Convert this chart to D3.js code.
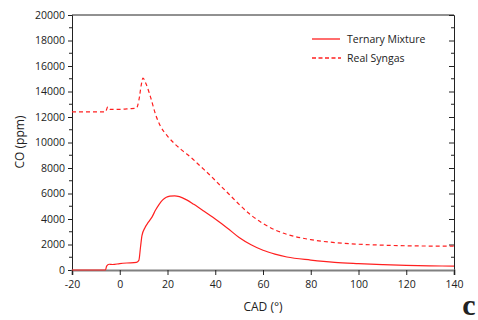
<!DOCTYPE html>
<html>
<head>
<meta charset="utf-8">
<script src="https://cdn.jsdelivr.net/npm/d3@7"></script>
<style>
  body { margin: 0; background: #fff; }
  svg { display: block; }
  text { font-family: "Open Sans", sans-serif; fill: #222; }
</style>
</head>
<body>
<svg width="478" height="320"></svg>
<script>
// CO concentration vs crank angle

var xTicks = [-20, 0, 20, 40, 60, 80, 100, 120, 140];
var yTicks = [0, 2000, 4000, 6000, 8000, 10000, 12000, 14000, 16000, 18000, 20000];

var ternaryCad = [-20, -6, -5.5, -4.5, -3, 0, 3, 7, 8, 8.7, 9.3, 10.5, 12, 13.5, 15, 16.5, 18, 19.5, 21, 23, 25, 28, 31, 35, 40, 45, 50, 55, 60, 65, 70, 80, 90, 100, 110, 120, 130, 140];
var ternaryCo  = [0, 0, 300, 450, 430, 500, 550, 600, 750, 1800, 2700, 3300, 3750, 4150, 4700, 5150, 5500, 5700, 5790, 5820, 5750, 5500, 5150, 4650, 4000, 3300, 2550, 1980, 1550, 1250, 1020, 780, 600, 500, 420, 360, 330, 300];

var syngasCad = [-20, -6, -5, -4, 0, 4, 7, 8, 9, 9.7, 11, 13, 15, 17, 20, 23, 26, 30, 34, 38, 42, 46, 50, 55, 60, 65, 70, 80, 90, 100, 110, 120, 130, 140];
var syngasCo  = [12400, 12400, 12800, 12600, 12600, 12650, 12700, 13300, 14500, 15050, 14600, 13500, 12200, 11300, 10500, 9900, 9400, 8800, 8100, 7400, 6650, 5900, 5150, 4300, 3650, 3150, 2800, 2380, 2150, 2020, 1950, 1900, 1880, 1880];

var svg = d3.select("svg"),
    plotL = 72, plotR = 454, plotT = 15, plotB = 270;

var x = d3.scaleLinear().domain([-20, 140]).range([plotL, plotR]);
var y = d3.scaleLinear().domain([0, 20000]).range([plotB, plotT]);

var minorY = d3.range(1000, 20000, 2000);
var fmt = function(d) { return String(d); };

// left axis
var gl = svg.append("g").attr("transform", "translate(" + plotL + ",0)");
gl.call(d3.axisLeft(y).tickValues(yTicks).tickSize(4).tickPadding(3).tickFormat(fmt));
gl.append("g").selectAll("line").data(minorY).enter().append("line")
    .attr("x1", -3).attr("x2", 0)
    .attr("y1", function(d) { return y(d); }).attr("y2", function(d) { return y(d); })
    .attr("stroke", "#222");

// right axis, ticks inside
var gr = svg.append("g").attr("transform", "translate(" + plotR + ",0)");
gr.call(d3.axisRight(y).tickValues(yTicks).tickSize(-5).tickFormat(""));
gr.append("g").selectAll("line").data(minorY).enter().append("line")
    .attr("x1", -3).attr("x2", 0)
    .attr("y1", function(d) { return y(d); }).attr("y2", function(d) { return y(d); })
    .attr("stroke", "#222");

// top border
svg.append("line")
    .attr("x1", plotL).attr("x2", plotR).attr("y1", plotT).attr("y2", plotT)
    .attr("stroke", "#222");

// bottom axis
var gb = svg.append("g").attr("transform", "translate(0," + plotB + ")");
gb.call(d3.axisBottom(x).tickValues(xTicks).tickSize(5).tickPadding(6).tickFormat(fmt));
gb.select(".domain").attr("stroke", "#808080").attr("stroke-width", 2);

svg.selectAll(".tick text")
    .style("font-family", "'Open Sans', sans-serif")
    .style("font-size", "10.5px")
    .attr("fill", "#222");
svg.selectAll(".tick line").attr("stroke", "#222");
gl.select(".domain").attr("stroke", "#222");
gr.select(".domain").attr("stroke", "#222");

var line = d3.line()
    .x(function(d) { return x(d[0]); })
    .y(function(d) { return y(d[1]); })
    .curve(d3.curveMonotoneX);

svg.append("path")
    .datum(d3.zip(syngasCad, syngasCo))
    .attr("d", line)
    .attr("fill", "none")
    .attr("stroke", "#ff2020")
    .attr("stroke-width", 1.2)
    .attr("stroke-dasharray", "4,3");

svg.append("path")
    .datum(d3.zip(ternaryCad, ternaryCo))
    .attr("d", line)
    .attr("fill", "none")
    .attr("stroke", "#ff2020")
    .attr("stroke-width", 1.2);

// legend
var legend = svg.append("g");
legend.append("line")
    .attr("x1", 312).attr("x2", 340).attr("y1", 39).attr("y2", 39)
    .attr("stroke", "#ff2020").attr("stroke-width", 1.3);
legend.append("text").attr("x", 347).attr("y", 43)
    .style("font-size", "10.5px").text("Ternary Mixture");
legend.append("line")
    .attr("x1", 312).attr("x2", 341).attr("y1", 58).attr("y2", 58)
    .attr("stroke", "#ff2020").attr("stroke-width", 1.3)
    .attr("stroke-dasharray", "4,2.5");
legend.append("text").attr("x", 347).attr("y", 61.5)
    .style("font-size", "10.5px").text("Real Syngas");

// axis titles
svg.append("text")
    .attr("transform", "translate(24,142) rotate(-90)")
    .attr("text-anchor", "middle")
    .style("font-size", "12px")
    .text("CO (ppm)");

svg.append("text")
    .attr("x", 263).attr("y", 311)
    .attr("text-anchor", "middle")
    .style("font-size", "12px")
    .text("CAD (°)");

// panel letter
svg.append("text")
    .attr("x", 469).attr("y", 315)
    .attr("text-anchor", "middle")
    .style("font-family", "'Liberation Serif', serif")
    .style("font-weight", "bold")
    .style("font-size", "30px")
    .attr("fill", "#000")
    .text("c");
</script>
</body>
</html>
